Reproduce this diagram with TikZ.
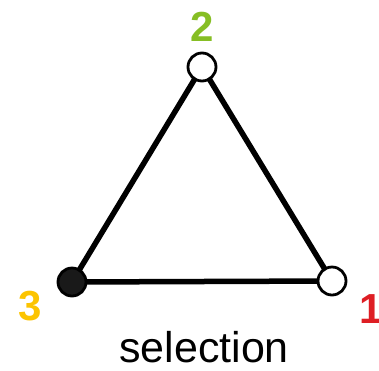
\documentclass[tikz,border=0pt]{standalone}
\usepackage{fontspec}
\setmainfont{Liberation Sans}
\definecolor{cgreen}{RGB}{134,190,36}
\definecolor{cyellow}{RGB}{252,196,0}
\definecolor{cred}{RGB}{222,30,36}
\begin{document}
\begin{tikzpicture}[x=1pt,y=-1pt,
  vtx/.style={circle,draw=black,line width=2.8pt,minimum size=28pt,inner sep=0pt,fill=white},
  edge/.style={line width=5.5pt,black},
  num/.style={font=\fontsize{42}{42}\selectfont\bfseries,inner sep=0pt}]
\useasboundingbox (0,0) rectangle (379,370);
\coordinate (p2) at (202,67);
\coordinate (p3) at (72,282);
\coordinate (p1) at (332,281);
\draw[edge,line join=round] (p2) -- (p3) -- (p1) -- cycle;
\node[vtx] (v2) at (p2) {};
\node[vtx,fill=black!90] (v3) at (p3) {};
\node[vtx] (v1) at (p1) {};
\node[num,text=cgreen] (l2) at (202,27) {2};
\node[num,text=cyellow] (l3) at (30,306) {3};
\node[num,text=cred] (l1) at (371,309) {1};
\node[font=\fontsize{43}{43}\selectfont,inner sep=0pt,anchor=base] (t) at (204,362) {selection};
\end{tikzpicture}
\end{document}
